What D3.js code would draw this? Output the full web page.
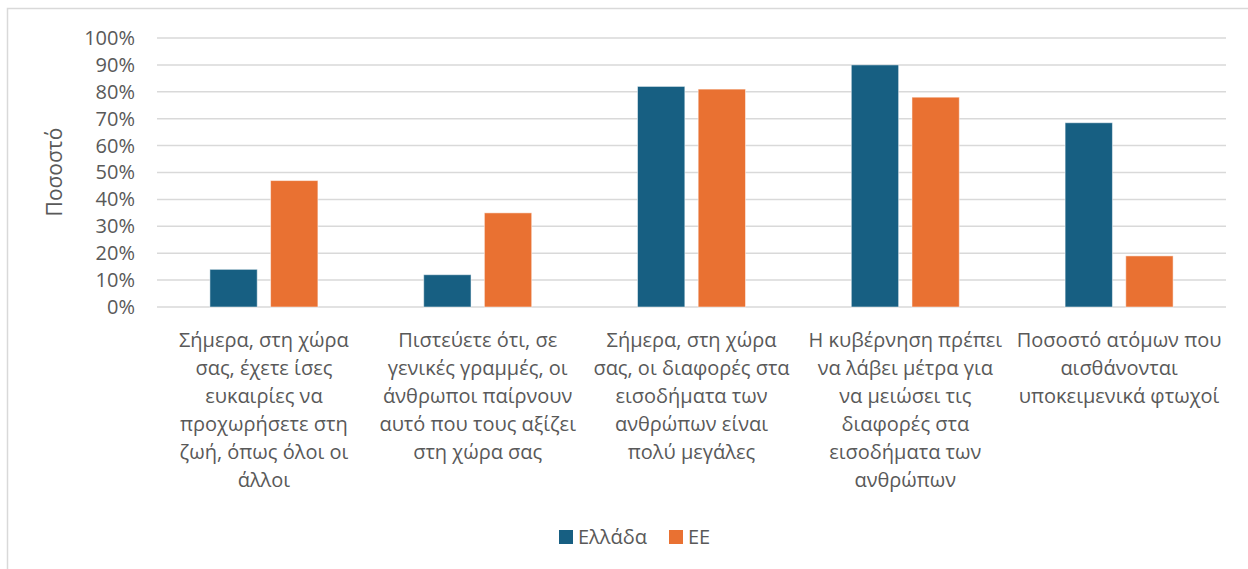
<!DOCTYPE html>
<html>
<head>
<meta charset="utf-8">
<style>
  body { margin: 0; background: #fff; }
  text { font-family: "Open Sans", sans-serif; fill: #595959; }
</style>
</head>
<body>
<div id="chart"></div>
<script src="https://cdn.jsdelivr.net/npm/d3@7"></script>
<script>
var categories = [
    "Σήμερα, στη χώρα\nσας, έχετε ίσες\nευκαιρίες να\nπροχωρήσετε στη\nζωή, όπως όλοι οι\nάλλοι",
    "Πιστεύετε ότι, σε\nγενικές γραμμές, οι\nάνθρωποι παίρνουν\nαυτό που τους αξίζει\nστη χώρα σας",
    "Σήμερα, στη χώρα\nσας, οι διαφορές στα\nεισοδήματα των\nανθρώπων είναι\nπολύ μεγάλες",
    "Η κυβέρνηση πρέπει\nνα λάβει μέτρα για\nνα μειώσει τις\nδιαφορές στα\nεισοδήματα των\nανθρώπων",
    "Ποσοστό ατόμων που\nαισθάνονται\nυποκειμενικά φτωχοί"
];
var seriesNames = ["Ελλάδα", "ΕΕ"];
var greece = [14, 12, 82, 90, 68.5];
var eu = [47, 35, 81, 78, 19];
var yTicks = [0, 10, 20, 30, 40, 50, 60, 70, 80, 90, 100];
var colors = ["#175F82", "#E97132"];
var yTitle = "Ποσοστό";

var width = 1248, height = 569;
var plotLeft = 157, plotRight = 1226, plotTop = 38, plotBottom = 307;

var svg = d3.select('#chart').append('svg')
    .attr('width', width)
    .attr('height', height);

// outer chart frame
svg.append('rect')
    .attr('x', 7.5).attr('y', 8.5)
    .attr('width', 1250).attr('height', 580)
    .attr('fill', 'none')
    .attr('stroke', '#d9d9d9')
    .attr('stroke-width', 1.5);

var x0 = d3.scaleBand().domain(d3.range(categories.length)).range([plotLeft, plotRight]);
var bw = x0.bandwidth();
var groupW = 108;
var x1 = d3.scaleBand().domain(d3.range(seriesNames.length))
    .range([(bw - groupW) / 2, (bw + groupW) / 2])
    .paddingInner(0.22);
var y = d3.scaleLinear().domain([0, 100]).range([plotBottom, plotTop]);

// gridlines
svg.append('g').selectAll('line')
    .data(yTicks)
    .enter().append('line')
    .attr('x1', plotLeft).attr('x2', plotRight)
    .attr('y1', function(d){ return y(d); })
    .attr('y2', function(d){ return y(d); })
    .attr('stroke', '#d9d9d9')
    .attr('stroke-width', 1.5);

// y tick labels
var yAxis = svg.append('g')
    .attr('transform', 'translate(' + (plotLeft - 22) + ',0)')
    .call(d3.axisLeft(y).tickValues(yTicks).tickSize(0).tickFormat(function(d){ return d + '%'; }));
yAxis.select('.domain').remove();
yAxis.selectAll('text')
    .attr('font-size', 20)
    .style('font-family', '"Open Sans", sans-serif')
    .attr('fill', '#595959')
    .attr('x', 0);

// y axis title
svg.append('text')
    .attr('transform', 'translate(62,' + 172 + ') rotate(-90)')
    .attr('text-anchor', 'middle')
    .attr('font-size', 21)
    .text(yTitle);

// bars
var rows = categories.map(function(c, i){ return [greece[i], eu[i]]; });
var groups = svg.append('g').selectAll('g')
    .data(rows)
    .enter().append('g')
    .attr('transform', function(d, i){ return 'translate(' + x0(i) + ',0)'; });

groups.selectAll('rect')
    .data(function(d){ return d; })
    .enter().append('rect')
    .attr('x', function(d, j){ return x1(j); })
    .attr('y', function(d){ return y(d); })
    .attr('width', x1.bandwidth())
    .attr('height', function(d){ return y(0) - y(d); })
    .attr('fill', function(d, j){ return colors[j]; })
    .attr('stroke', '#ffffff')
    .attr('stroke-opacity', 0.5)
    .attr('stroke-width', 1);

// category labels
var labels = svg.append('g').selectAll('text')
    .data(categories)
    .enter().append('text')
    .attr('text-anchor', 'middle')
    .attr('font-size', 20)
    .attr('x', function(d, i){ return x0(i) + bw / 2; })
    .attr('y', 347);

labels.each(function(d, i){
    var t = d3.select(this);
    d.split('\n').forEach(function(line, k){
        t.append('tspan')
            .attr('x', x0(i) + bw / 2)
            .attr('dy', k === 0 ? 0 : 28)
            .text(line);
    });
});

// legend
var legendX = [559, 669];
var legend = svg.append('g').selectAll('g')
    .data(seriesNames)
    .enter().append('g')
    .attr('transform', function(d, i){ return 'translate(' + legendX[i] + ',530)'; });
legend.append('rect')
    .attr('width', 14).attr('height', 14)
    .attr('fill', function(d, i){ return colors[i]; });
legend.append('text')
    .attr('x', 19).attr('y', 14)
    .attr('font-size', 20)
    .text(function(d){ return d; });
</script>
</body>
</html>
